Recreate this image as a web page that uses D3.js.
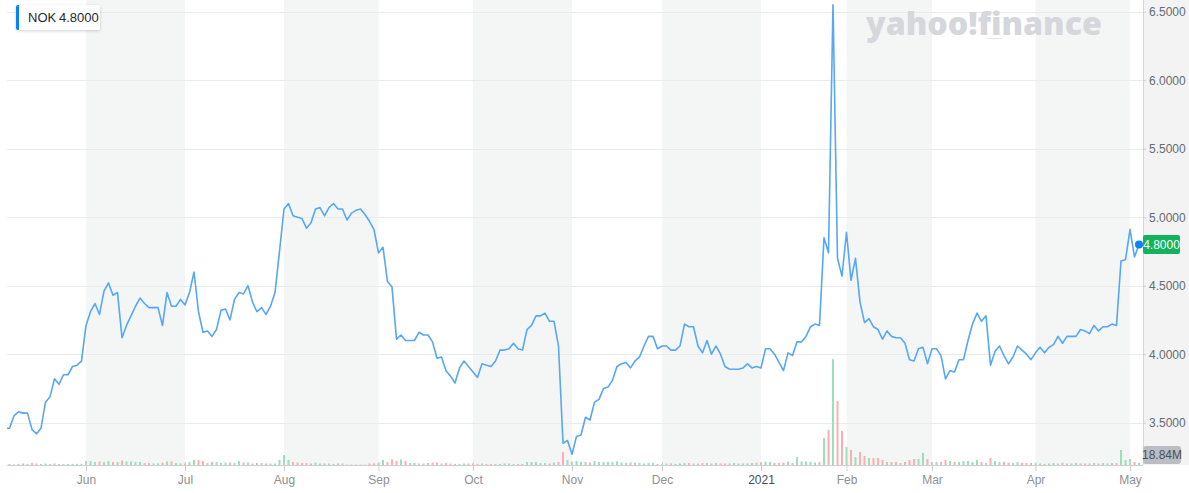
<!DOCTYPE html>
<html><head><meta charset="utf-8">
<script src="https://cdn.jsdelivr.net/npm/d3@7"></script>
<style>
html,body{margin:0;padding:0;background:#fff;}
svg{display:block;font-family:"Liberation Sans",Arial,Helvetica,sans-serif;}
</style></head><body>
<svg id="chart" width="1189" height="493"></svg>
<script>
const ticker = "NOK";
const lastPriceLabel = "4.8000";
const lastVolumeLabel = "18.84M";
const logoText = "yahoo!finance";

// daily closes, May 5 2020 .. May 5 2021 (trading-day index)
const closes = [
3.46,3.46,3.55,3.58,3.57,3.57,3.45,3.42,3.46,3.65,3.69,3.82,3.78,3.85,3.85,3.91,3.92,3.95,
4.21,4.31,4.37,4.29,4.46,4.52,4.43,4.45,4.12,4.21,4.28,4.35,4.41,4.37,4.34,4.34,4.34,4.21,4.45,4.35,4.35,4.40,
4.36,4.45,4.60,4.31,4.16,4.17,4.13,4.18,4.32,4.33,4.25,4.40,4.45,4.44,4.50,4.38,4.31,4.34,4.29,4.35,4.45,4.75,
5.06,5.10,5.01,5.00,4.99,4.92,4.96,5.06,5.07,5.01,5.07,5.10,5.06,5.06,4.98,5.03,5.05,5.06,5.02,4.97,4.91,
4.74,4.78,4.53,4.49,4.11,4.14,4.10,4.10,4.10,4.16,4.14,4.14,4.09,3.97,3.98,3.88,3.84,3.79,3.90,3.95,3.91,
3.87,3.83,3.93,3.92,3.91,3.95,4.03,4.03,4.04,4.08,4.04,4.03,4.18,4.21,4.28,4.28,4.30,4.24,4.24,4.06,3.35,3.37,
3.27,3.40,3.41,3.54,3.52,3.65,3.67,3.75,3.76,3.81,3.91,3.93,3.94,3.90,3.95,3.98,4.06,4.13,4.13,4.04,
4.06,4.06,4.03,4.03,4.06,4.22,4.20,4.20,4.06,4.01,4.10,4.00,4.06,4.00,3.91,3.89,3.89,3.89,3.90,3.93,3.90,3.91,
3.90,4.04,4.04,4.00,3.94,3.88,4.01,3.99,4.09,4.09,4.13,4.20,4.22,4.21,4.85,4.74,6.55,4.70,4.57,
4.89,4.54,4.70,4.38,4.23,4.26,4.20,4.18,4.11,4.17,4.13,4.12,4.12,4.08,3.96,3.95,4.04,4.05,3.93,
4.04,4.04,3.99,3.82,3.88,3.87,3.96,3.96,4.10,4.22,4.30,4.24,4.28,3.92,4.02,4.06,3.99,3.93,3.98,4.06,4.03,4.00,3.96,
4.01,4.05,4.01,4.05,4.07,4.13,4.08,4.13,4.13,4.13,4.18,4.17,4.15,4.21,4.17,4.20,4.20,4.22,4.21,4.68,4.69,
4.91,4.71,4.80
];

// daily volume, millions of shares
const volumes = [
13,9,5,9,13,9,17,13,9,13,9,13,9,9,9,9,10,10,
34,34,26,30,26,34,26,26,38,30,30,26,26,17,17,13,13,21,30,30,17,13,
13,26,43,43,34,17,26,26,17,21,21,17,34,21,21,13,17,17,13,13,13,43,
85,43,26,21,17,17,13,21,13,13,13,9,13,13,4,4,4,4,4,13,13,
17,43,26,47,34,47,34,17,17,13,13,17,21,21,13,17,13,9,9,13,13,
13,9,13,9,9,9,9,13,13,9,9,9,26,26,26,17,17,13,21,26,110,43,
30,34,26,26,21,34,26,26,26,26,30,21,17,21,21,17,13,17,17,9,
9,13,13,9,13,17,17,13,13,17,17,13,17,13,13,13,17,13,13,13,17,21,
26,30,26,17,17,21,30,17,68,30,30,26,21,26,230,298,900,544,289,
153,128,68,110,77,60,60,60,43,26,26,26,17,26,43,51,51,102,51,
26,26,26,43,34,26,26,34,34,26,43,26,17,60,34,26,26,21,17,26,17,17,17,
13,13,9,13,17,13,21,13,13,17,13,13,13,17,13,17,13,17,17,128,43,
51,26,18.84
];

const monthLabels = ["Jun","Jul","Aug","Sep","Oct","Nov","Dec","2021","Feb","Mar","Apr","May"];
const monthIdx    = [18,40,62,83,104,126,146,168,187,206,229,250];
const shadedBands = [[18,40],[62,83],[104,126],[146,168],[187,206],[229,250]];
const yTicks = [3.5,4.0,4.5,5.0,5.5,6.0,6.5];

const svg = d3.select("#chart");
const plotL = 7, plotR = 1143, plotT = 0, plotB = 465;

const x = d3.scaleLinear().domain([0, closes.length - 1]).range([5, 5 + 4.5 * (closes.length - 1)]);
const y = d3.scaleLinear().domain([3.5, 6.5]).range([422.7, 11.7]);
const yv = d3.scaleLinear().domain([0, 1000]).range([plotB, plotB - 117.6]);

const defs = svg.append("defs");
defs.append("clipPath").attr("id", "plotClip")
  .append("rect").attr("x", plotL).attr("y", plotT).attr("width", plotR - plotL).attr("height", plotB - plotT);
const f = defs.append("filter").attr("id", "shadow").attr("x", "-20%").attr("y", "-30%").attr("width", "140%").attr("height", "160%");
f.append("feDropShadow").attr("dx", 0).attr("dy", 1).attr("stdDeviation", 1.5).attr("flood-color", "#000").attr("flood-opacity", 0.18);

// right gutter
svg.append("rect").attr("x", plotR).attr("y", 0).attr("width", 1189 - plotR).attr("height", plotB).attr("fill", "#f3f3f3");

// shaded month bands
svg.append("g").selectAll("rect").data(shadedBands).join("rect")
  .attr("x", d => x(d[0])).attr("y", plotT)
  .attr("width", d => x(d[1]) - x(d[0])).attr("height", plotB - plotT)
  .attr("fill", "#f4f6f6");

// gridlines
svg.append("g").selectAll("line").data(yTicks).join("line")
  .attr("x1", plotL).attr("x2", plotR)
  .attr("y1", d => Math.round(y(d)) + 0.5).attr("y2", d => Math.round(y(d)) + 0.5)
  .attr("stroke", "#ebebeb").attr("stroke-width", 1);

// logo watermark (font size fitted to the logo's width)
const logo = svg.append("text").attr("x", 866).attr("y", 35)
  .attr("font-family", "'Open Sans','DejaVu Sans',sans-serif").attr("font-weight", 800)
  .attr("font-size", 36).attr("fill", "#d5d7dc")
  .text(logoText);
const logoW = logo.node().getComputedTextLength();
if (logoW > 0) logo.attr("font-size", 36 * 236 / logoW);
svg.append("line").attr("x1", 988).attr("x2", 1002).attr("y1", 38.5).attr("y2", 38.5)
  .attr("stroke", "#e4e5e8").attr("stroke-width", 1);

const plot = svg.append("g").attr("clip-path", "url(#plotClip)");

// volume bars
plot.append("g").selectAll("rect").data(volumes).join("rect")
  .attr("x", (d, i) => x(i) - 1).attr("width", 2)
  .attr("y", d => yv(d)).attr("height", d => plotB - yv(d))
  .attr("fill", (d, i) => (i === 0 || closes[i] >= closes[i - 1]) ? "#99e0bd" : "#ffadb0");

// price line
plot.append("path").datum(closes)
  .attr("fill", "none").attr("stroke", "#56a7f5").attr("stroke-width", 1.6)
  .attr("stroke-linejoin", "round")
  .attr("d", d3.line().x((d, i) => x(i)).y(d => y(d)));

// x axis
const xAxis = d3.axisBottom(x).tickValues(monthIdx).tickFormat((d, i) => monthLabels[i]).tickSize(6).tickPadding(4);
const gx = svg.append("g").attr("transform", `translate(0,${plotB})`).call(xAxis);
gx.select(".domain").remove();
gx.selectAll(".tick line").attr("stroke", "#cfcfcf").attr("y1", -3);
gx.selectAll(".tick text").attr("font-size", 12).attr("fill", (d, i) => monthLabels[i] === "2021" ? "#474d54" : "#8d9196")
  .attr("font-family", "'Liberation Sans',Arial,sans-serif");
svg.append("line").attr("x1", plotL).attr("x2", plotR).attr("y1", plotB + 0.5).attr("y2", plotB + 0.5)
  .attr("stroke", "#cfcfcf");

// right border
svg.append("line").attr("x1", plotR + 0.5).attr("x2", plotR + 0.5).attr("y1", 0).attr("y2", plotB)
  .attr("stroke", "#d6d6d6");

// y axis
const yAxis = d3.axisRight(y).tickValues(yTicks).tickFormat(d3.format(".4f")).tickSize(3).tickPadding(3);
const gy = svg.append("g").attr("transform", `translate(${plotR},0)`).call(yAxis);
gy.select(".domain").remove();
gy.selectAll(".tick line").attr("stroke", "#cfcfcf");
gy.selectAll(".tick text").attr("font-size", 12).attr("fill", "#646b73")
  .attr("font-family", "'Liberation Sans',Arial,sans-serif");

// current price marker
const lastI = closes.length - 1;
svg.append("circle").attr("cx", x(lastI)).attr("cy", y(closes[lastI])).attr("r", 4).attr("fill", "#0a83f0");
svg.append("rect").attr("x", plotR).attr("y", y(closes[lastI]) - 9.5).attr("width", 37).attr("height", 19)
  .attr("rx", 2).attr("fill", "#13b35e");
svg.append("text").attr("x", plotR + 18.5).attr("y", y(closes[lastI]))
  .attr("text-anchor", "middle").attr("dominant-baseline", "central")
  .attr("font-size", 12).attr("fill", "#fff").text(lastPriceLabel);

// current volume label
svg.append("rect").attr("x", plotR).attr("y", 446).attr("width", 38).attr("height", 18)
  .attr("rx", 3).attr("fill", "#babdc4");
svg.append("text").attr("x", plotR + 19).attr("y", 455)
  .attr("text-anchor", "middle").attr("dominant-baseline", "central")
  .attr("font-size", 12).attr("fill", "#4b5057").text(lastVolumeLabel);

// legend
const lg = svg.append("g");
lg.append("rect").attr("x", 16).attr("y", 5).attr("width", 84).attr("height", 25).attr("rx", 2)
  .attr("fill", "#fff").attr("filter", "url(#shadow)");
lg.append("rect").attr("x", 16).attr("y", 5).attr("width", 5).attr("height", 25).attr("rx", 2).attr("fill", "#0a83f0");
lg.append("rect").attr("x", 19).attr("y", 5).attr("width", 3).attr("height", 25).attr("fill", "#fff");
lg.append("text").attr("x", 28).attr("y", 22).attr("font-size", 13).attr("fill", "#232a31").text(ticker);
lg.append("text").attr("x", 59).attr("y", 22).attr("font-size", 13).attr("fill", "#232a31").text(d3.format(".4f")(closes[lastI]));
</script>
</body></html>
